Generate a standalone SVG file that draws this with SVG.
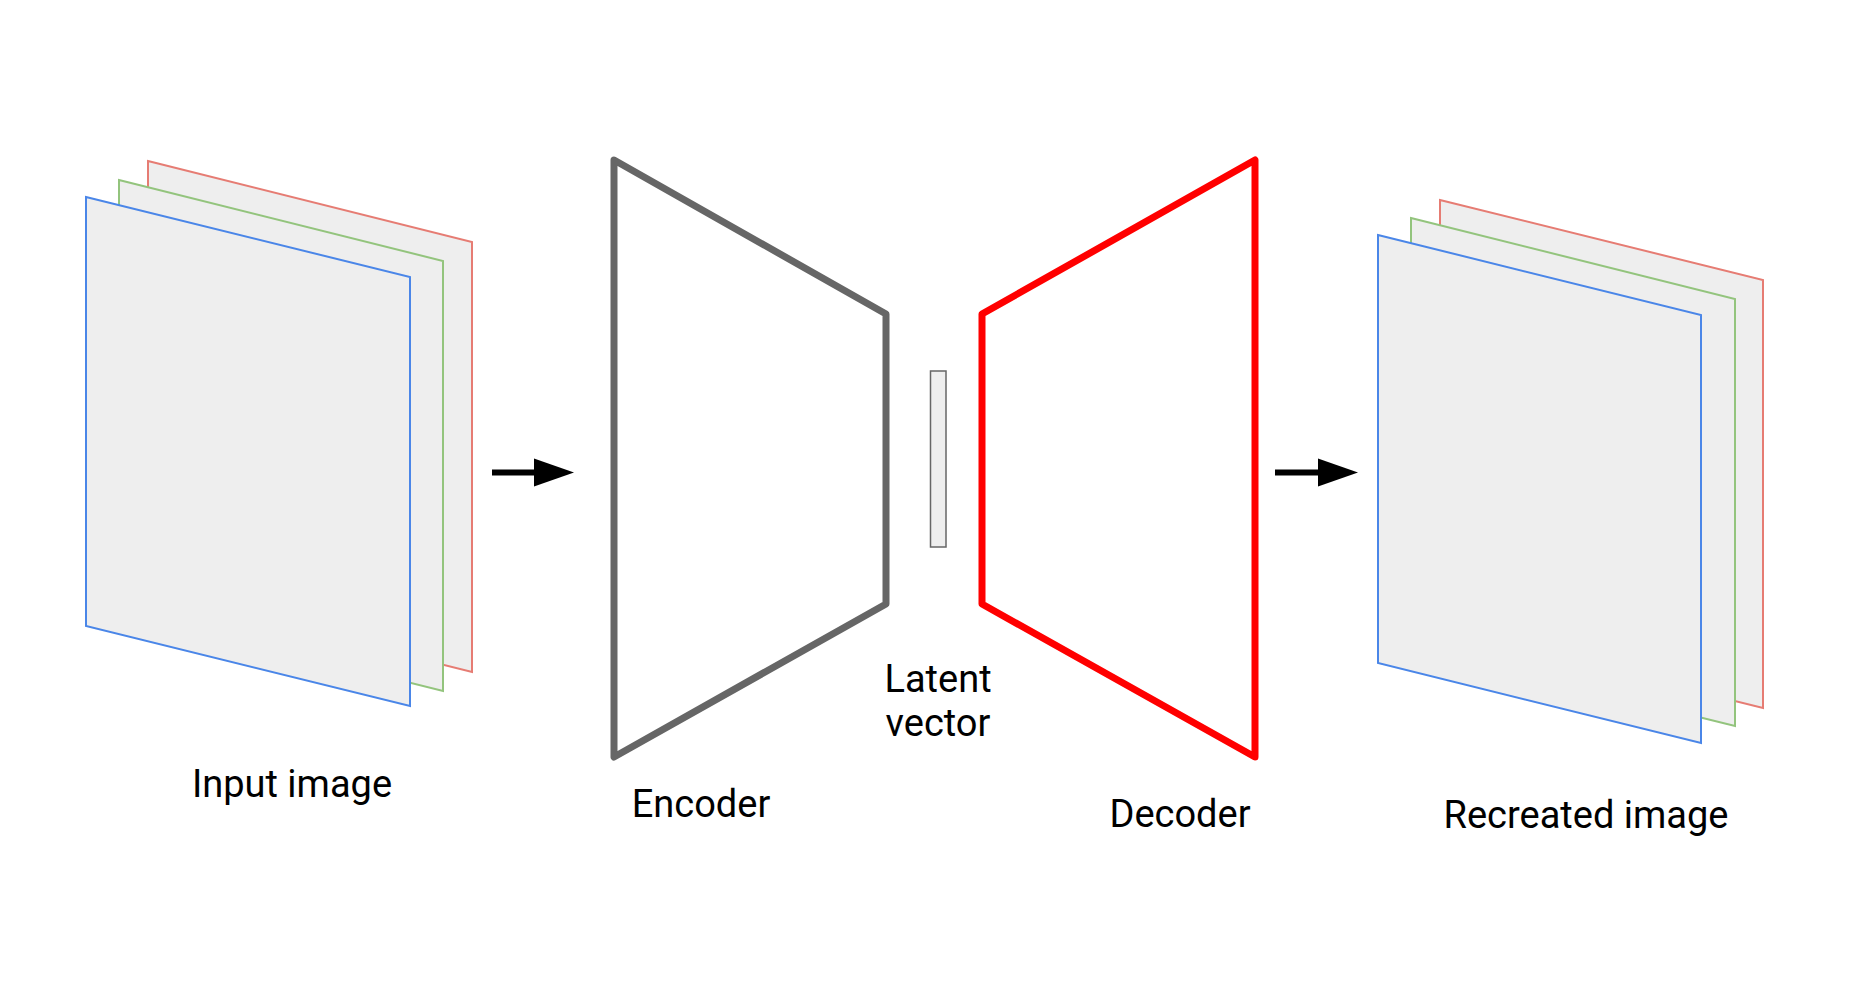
<svg xmlns="http://www.w3.org/2000/svg" width="1853" height="998" viewBox="0 0 1853 998">
<style>
.lbl{font-family:Roboto,"Liberation Sans",sans-serif;font-size:38px;fill:#000;text-anchor:middle}
.pl{fill:#eeeeee;stroke-width:2;stroke-linejoin:miter}
.r{stroke:#e67c73}
.g{stroke:#93c47d}
.b{stroke:#4a86e8}
.conn{stroke:#000;stroke-width:6;fill:none}
</style>
<defs>
<marker id="ah" markerUnits="userSpaceOnUse" markerWidth="40" markerHeight="28" refX="0" refY="14" orient="auto" overflow="visible">
<path d="M0,0 L40,14 L0,28 Z" fill="#000"/>
</marker>
</defs>
<rect width="1853" height="998" fill="#fff"/>
<g id="input-image">
<polygon class="pl r" points="148,161 472,242 472,672 148,591"/>
<polygon class="pl g" points="119,180 443,261 443,691 119,610"/>
<polygon class="pl b" points="86,197 410,277 410,706 86,626"/>
<text class="lbl" x="292" y="797">Input image</text>
</g>
<g id="encoder">
<polygon points="614,160 886,314 886,604 614,757" fill="#fff" stroke="#666666" stroke-width="7" stroke-linejoin="round"/>
<text class="lbl" x="701" y="817">Encoder</text>
</g>
<g id="latent">
<rect x="930.5" y="371" width="15.5" height="176" fill="#eeeeee" stroke="#666666" stroke-width="1.5"/>
<text class="lbl" x="938" y="692">Latent</text>
<text class="lbl" x="938" y="736">vector</text>
</g>
<g id="decoder">
<polygon points="982,314 1255,160 1255,757 982,604" fill="#fff" stroke="#ff0000" stroke-width="7" stroke-linejoin="round"/>
<text class="lbl" x="1180" y="827">Decoder</text>
</g>
<g id="recreated-image">
<polygon class="pl r" points="1440,200 1763,280 1763,708 1440,628"/>
<polygon class="pl g" points="1411,218 1735,299 1735,726 1411,646"/>
<polygon class="pl b" points="1378,235 1701,315 1701,743 1378,663"/>
<text class="lbl" x="1586" y="828">Recreated image</text>
</g>
<g id="connectors">
<line class="conn" x1="492" y1="472.5" x2="534" y2="472.5" marker-end="url(#ah)"/>
<line class="conn" x1="1275" y1="472.5" x2="1318" y2="472.5" marker-end="url(#ah)"/>
</g>
</svg>
